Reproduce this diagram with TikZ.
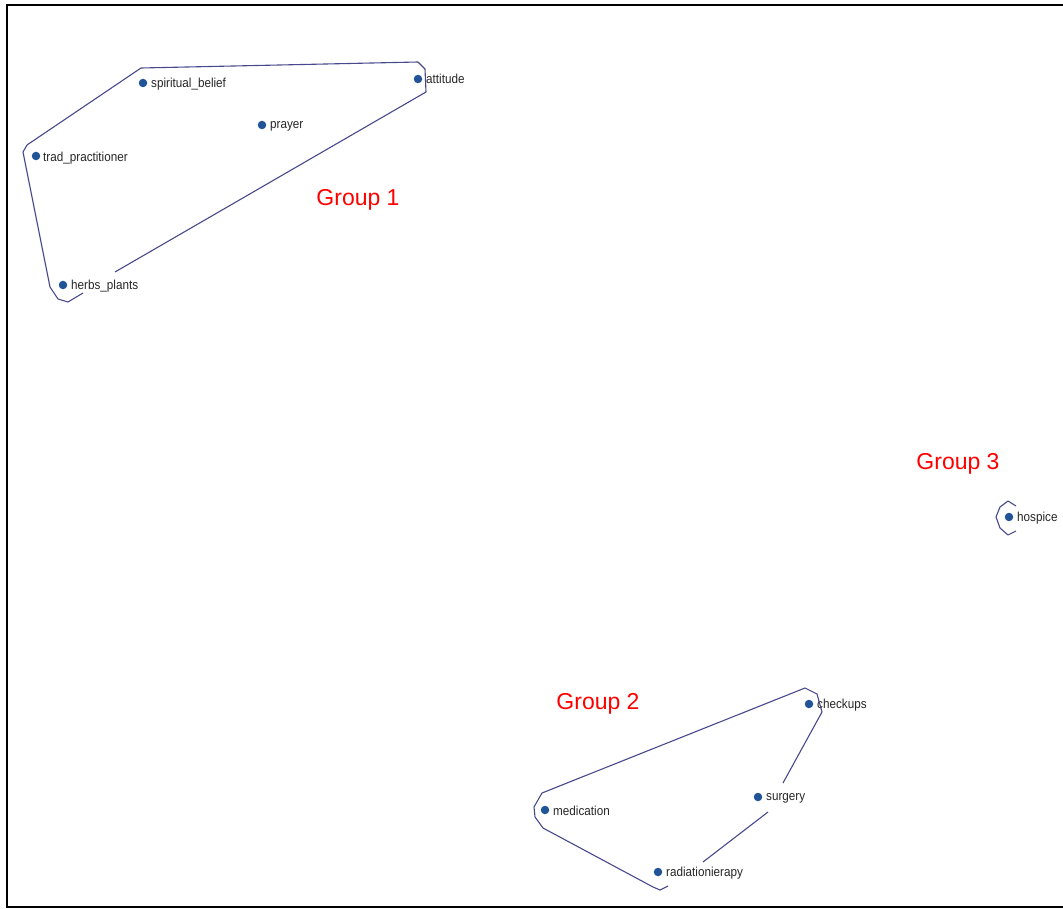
\documentclass[tikz,border=0pt]{standalone}
\usepackage{fontspec}
\setmainfont{Liberation Sans}
\newfontfamily\narrowfont[FakeStretch=0.9]{Liberation Sans}
\definecolor{hullc}{RGB}{72,72,140}
\definecolor{dotc}{RGB}{32,84,150}
\definecolor{grpred}{RGB}{255,0,0}
\begin{document}
\begin{tikzpicture}[x=1pt,y=-1pt,
  item/.style={circle,fill=dotc,inner sep=0pt,minimum size=8.5pt},
  lbl/.style={anchor=west,inner sep=0pt,font=\narrowfont\fontsize{13}{15}\selectfont,text=black!85},
  grp/.style={font=\fontsize{23}{26}\selectfont,text=grpred},
  hull/.style={draw=hullc,line width=1.1pt,line join=round}]
\useasboundingbox (0,0) rectangle (1063,909);
\draw[line width=2pt] (1063,5) -- (7,5) -- (7,907) -- (1063,907);
% nodes
\node[item] (sb) at (143,83) {};
\node[item] (at) at (418,79) {};
\node[item] (pr) at (262,125) {};
\node[item] (tp) at (36,156) {};
\node[item] (hp) at (63,285) {};
\node[item] (ho) at (1009,517) {};
\node[item] (ch) at (809,704) {};
\node[item] (su) at (758,797) {};
\node[item] (me) at (545,810) {};
\node[item] (ra) at (658,872) {};
\node[lbl] (sbl) at (151,84) {spiritual\_belief};
\node[lbl] (atl) at (426,79) {attitude};
\node[lbl] (prl) at (270,126) {prayer};
\node[lbl] (tpl) at (43,158) {trad\_practitioner};
\node[lbl] (hpl) at (71,286) {herbs\_plants};
\node[lbl] (hol) at (1017,518) {hospice};
\node[lbl] (chl) at (817,705) {checkups};
\node[lbl] (sul) at (766,798) {surgery};
\node[lbl] (mel) at (553,811) {medication};
\node[lbl] (ral) at (666,873) {radiationierapy};
% group labels
\node[grp] (g1) at (358,200) {Group 1};
\node[grp] (g2) at (598,704) {Group 2};
\node[grp] (g3) at (958,464) {Group 3};
% hulls
\draw[hull] (141,68) -- (418,62) -- (425,69) -- (426,92) -- (115,272);
\draw[hull] (83,293) -- (68,302) -- (58,299) -- (50,287) -- (23,152) -- (27,145) -- (141,68);
\draw[hull] (805,688) -- (817,694) -- (822,712) -- (783,783);
\draw[hull] (768,812) -- (703,862);
\draw[hull] (668,886) -- (660,890) -- (653,887) -- (543,828) -- (535,817) -- (534,807) -- (542,793) -- (805,688);
\draw[hull] (1016,506) -- (1008,501) -- (1000,507) -- (996,517) -- (1000,528) -- (1008,535) -- (1016,531);
\end{tikzpicture}
\end{document}
